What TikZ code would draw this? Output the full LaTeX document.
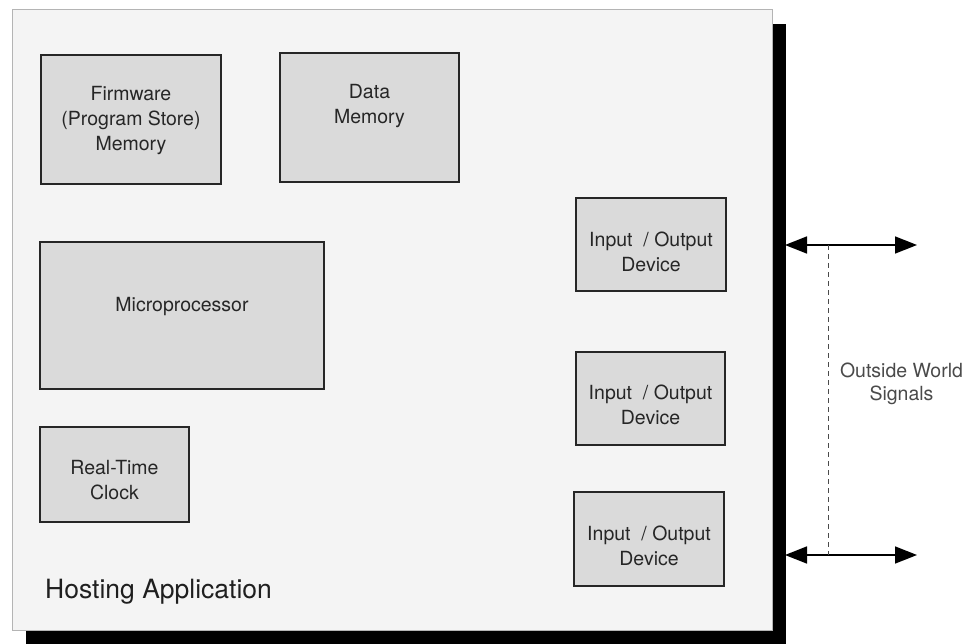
\documentclass[tikz,border=0pt]{standalone}
\usepackage{fontspec}
\setmainfont{TeX Gyre Heros}
\usetikzlibrary{arrows.meta}
\definecolor{hostfill}{HTML}{F4F4F4}
\definecolor{hostline}{HTML}{B4B4B4}
\definecolor{blkfill}{HTML}{DADADA}
\definecolor{blkline}{HTML}{262626}
\definecolor{txt}{HTML}{262626}
\definecolor{sigtxt}{HTML}{4A4A4A}
\tikzset{
  blk/.style={draw=blkline, fill=blkfill, line width=2pt, inner sep=0pt},
  blktext/.style={text=txt, align=center, inner sep=0pt, font=\fontsize{19.5}{25}\selectfont},
  sig/.style={line width=1.6pt, {Triangle[length=22pt,width=17pt]}-{Triangle[length=22pt,width=17pt]}},
}
\begin{document}
\begin{tikzpicture}[x=1pt,y=-1pt]
\useasboundingbox (0,0) rectangle (971,644);
% shadow and host
\fill[black] (26,24) rectangle (786,646);
\draw[draw=hostline, fill=hostfill, line width=1pt] (12,10) rectangle (772,630);
\node (host) at (392,320) {};
% blocks
\node[blk, minimum width=180pt, minimum height=129pt] (fw) at (131,119.5) {};
\node[blktext] (fwt) at (131,121) {Firmware\\(Program Store)\\Memory};
\node[blk, minimum width=179pt, minimum height=129pt] (dm) at (369.5,117.5) {};
\node[blktext] (dmt) at (369.5,106) {Data\\Memory};
\node[blk, minimum width=284pt, minimum height=147pt] (mp) at (182,315.5) {};
\node[blktext] (mpt) at (182,307) {Microprocessor};
\node[blk, minimum width=149pt, minimum height=95pt] (rtc) at (114.5,474.5) {};
\node[blktext] (rtct) at (114.5,480) {Real-Time\\Clock};
\node[blk, minimum width=150pt, minimum height=93pt] (io1) at (651,244.5) {};
\node[blktext] (io1t) at (651,251.5) {Input~ / Output\\Device};
\node[blk, minimum width=149pt, minimum height=93pt] (io2) at (650.5,398.5) {};
\node[blktext] (io2t) at (650.5,405) {Input~ / Output\\Device};
\node[blk, minimum width=150pt, minimum height=94pt] (io3) at (649,539) {};
\node[blktext] (io3t) at (649,546) {Input~ / Output\\Device};
\node[anchor=west, text=black!88, inner sep=0pt, font=\fontsize{26.5}{30}\selectfont] (hosting) at (45,592) {Hosting Application};
% signals
\coordinate (a1) at (785,245);
\coordinate (b1) at (917,245);
\coordinate (a2) at (785,555);
\coordinate (b2) at (917,555);
\coordinate (d1) at (828,245);
\coordinate (d2) at (828,555);
\draw[sig] (a1) -- (b1);
\draw[sig] (a2) -- (b2);
\draw[sigtxt, line width=1pt, dash pattern=on 5pt off 4pt] (d1) -- (d2);
\node[text=sigtxt, align=center, inner sep=0pt, font=\fontsize{19.5}{23.5}\selectfont] (sigt) at (901.5,384) {Outside World\\Signals};
\end{tikzpicture}
\end{document}
